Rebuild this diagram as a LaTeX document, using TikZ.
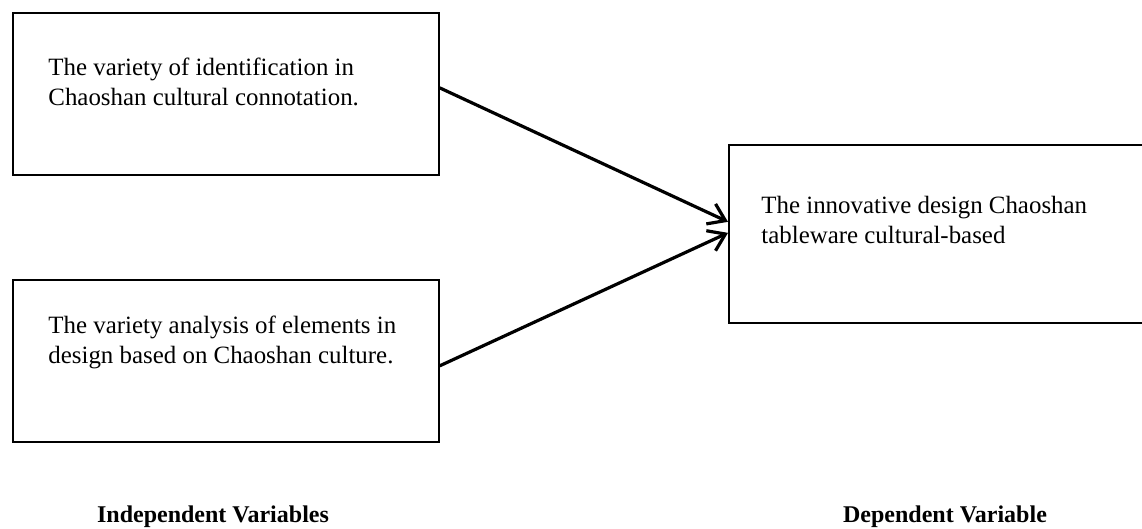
\documentclass[tikz,border=0pt]{standalone}
\usepackage{fontspec}
\setmainfont{Liberation Serif}
\usetikzlibrary{calc,positioning,arrows.meta}

\tikzset{
  varbox/.style={draw,rectangle,line width=0.85pt,anchor=north west,inner sep=0pt},
  boxtext/.style={anchor=north west,inner sep=0pt,align=left,font=\fontsize{12.45}{15}\selectfont},
  varlabel/.style={anchor=base,inner sep=0pt,font=\fontsize{12}{15}\selectfont\bfseries},
  >={Straight Barb[length=8pt,width=11pt]}
}

\begin{document}
\begin{tikzpicture}[x=0.5pt,y=-0.5pt]

  \useasboundingbox (0,0) rectangle (1142,529);

  % independent variables
  \node [varbox,minimum width=213pt,minimum height=81pt] at(12,12) (indep_one) {};
  \node [varbox,minimum width=213pt,minimum height=81pt] at(12,279) (indep_two) {};

  % dependent variable (right edge runs off the page)
  \node [varbox,minimum width=211pt,minimum height=89pt] at(728,144) (dep_box) {};

  \node [boxtext] at($(indep_one.north west)+(36,46)$) (indep_one_text)
    {The variety of identification in\\Chaoshan cultural connotation.};
  \node [boxtext] at($(indep_two.north west)+(36,37)$) (indep_two_text)
    {The variety analysis of elements in\\design based on Chaoshan culture.};
  \node [boxtext] at($(dep_box.north west)+(33,52)$) (dep_text)
    {The innovative design Chaoshan\\tableware cultural-based};

  \draw[->,line width=1.6pt] ($(indep_one.east)+(0,-6)$) -- ($(dep_box.west)+(0,-12)$);
  \draw[->,line width=1.6pt] ($(indep_two.east)+(0,5)$) -- ($(dep_box.west)+(0,-1)$);

  \node [varlabel] at(213,523) (indep_label) {Independent Variables};
  \node [varlabel] at(945,523) (dep_label) {Dependent Variable};

\end{tikzpicture}
\end{document}
